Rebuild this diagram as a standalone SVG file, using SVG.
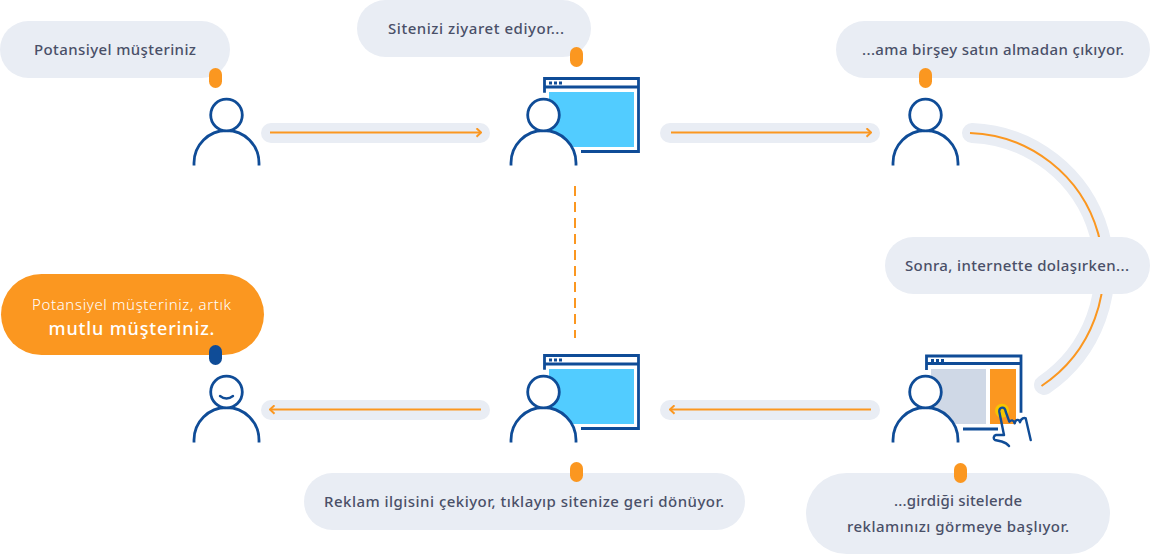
<svg xmlns="http://www.w3.org/2000/svg" width="1150" height="554" viewBox="0 0 1150 554">
<style>
.pill{fill:#e9edf4}
.track{fill:none;stroke:#e9edf4;stroke-width:20;stroke-linecap:round}
.flow{fill:none;stroke:#fb9720;stroke-width:2}
.line{fill:none;stroke:#0f4c97;stroke-width:2.800}
.thin{fill:none;stroke:#0f4c97;stroke-width:2.400;stroke-linecap:round;stroke-linejoin:round}
.head{fill:#fff;stroke:#0f4c97;stroke-width:2.800}
.badge{fill:#fb9720}
.t{font-family:"Noto Sans","Open Sans",sans-serif;font-size:15px;font-weight:500;fill:#4a5068;text-anchor:middle}
.w{font-family:"Noto Sans","Open Sans",sans-serif;fill:#fff;text-anchor:middle}
</style>
<defs>
<marker id="arr" viewBox="0 0 10 10" refX="9" refY="5" markerWidth="10" markerHeight="10" markerUnits="userSpaceOnUse" orient="auto-start-reverse"><path d="M4.500 0.800 L9 5 L4.500 9.200" fill="none" stroke="#fb9720" stroke-width="2"/></marker>
<g id="person"><path class="line" d="M194 165.500V163A32.500 32.500 0 0 1 259 163V165.500" style="fill:#fff"/><circle class="head" cx="226.500" cy="115" r="15.800"/></g>
<g id="browser"><path class="line" d="M544.500 92.700V78.500H638.500V151.500H581M544.500 87H638.500"/><path d="M549 81.500h3v3h-3zM554 81.500h3v3h-3zM559 81.500h3v3h-3z" fill="#0f4c97"/></g>
</defs>
<g id="connectors">
<path class="track" d="M271 133H480"/><path class="flow" d="M270 132.500H481" marker-end="url(#arr)"/>
<path class="track" d="M670 133H870"/><path class="flow" d="M671 132.500H871" marker-end="url(#arr)"/>
<path class="track" d="M972 133A138 138 0 0 1 1044 385"/><path class="flow" d="M970 133A138 138 0 0 1 1041.500 386"/>
<path class="track" d="M870 410H670"/><path class="flow" d="M871 409.500H670" marker-end="url(#arr)"/>
<path class="track" d="M480 410H271"/><path class="flow" d="M481 409.500H270" marker-end="url(#arr)"/>
<path d="M575 186V338" fill="none" stroke="#fb9720" stroke-width="2" stroke-dasharray="10 6"/>
</g>
<g id="node-potansiyel"><rect class="pill" x="0" y="21" width="230" height="57" rx="28.500"/><text class="t" x="115" y="55" textLength="162">Potansiyel müşteriniz</text><rect class="badge" x="209" y="68" width="13" height="20" rx="6.500"/><use href="#person"/></g>
<g id="node-ziyaret"><rect class="pill" x="357" y="0" width="234" height="57" rx="28.500"/><text class="t" x="476" y="34" textLength="176">Sitenizi ziyaret ediyor...</text><rect class="badge" x="570" y="47" width="13" height="20" rx="6.500"/><rect x="549" y="92" width="85" height="55" fill="#52ccff"/><use href="#browser"/><use href="#person" x="317"/></g>
<g id="node-cikiyor"><rect class="pill" x="836" y="21" width="314" height="57" rx="28.500"/><text class="t" x="993" y="55" textLength="262">...ama birşey satın almadan çıkıyor.</text><rect class="badge" x="919" y="68" width="13" height="20" rx="6.500"/><use href="#person" x="699"/></g>
<g id="node-dolasirken"><rect class="pill" x="885" y="237" width="265" height="57" rx="28.500"/><text class="t" x="1017" y="271" textLength="224">Sonra, internette dolaşırken...</text></g>
<g id="node-reklam"><rect x="931" y="369" width="55" height="55" fill="#cfd8e6"/><rect x="990" y="369" width="26" height="55" fill="#fb9720"/><path class="line" d="M926.500 370V356H1021V412.700M926.500 363.500H1021M963 429H998"/><path d="M931 359h3v3h-3zM936 359h3v3h-3zM941 359h3v3h-3z" fill="#0f4c97"/><circle cx="1002" cy="410.700" r="7" fill="#f7c600"/><path class="thin" d="M1004 435L999.300 411.700C998.800 406.500 1005 406 1005.700 411.700L1009.300 421.700C1011 419.800 1013.500 419.500 1014.700 423.300C1015.500 419.500 1019 418.500 1020 422.300C1021 418 1024.500 417.500 1025.700 418.300L1030.700 440M1004 435H996C993.500 435.500 993 439 995 440L1001.700 441.500C1005 442.500 1007.500 444 1009 446"/><use href="#person" x="699" y="277"/><rect class="pill" x="806" y="473" width="304" height="81" rx="40.500"/><text class="t" x="958" y="506" textLength="128">...girdiği sitelerde</text><text class="t" x="958" y="532" textLength="222">reklamınızı görmeye başlıyor.</text><rect class="badge" x="954" y="463" width="13" height="20" rx="6.500"/></g>
<g id="node-tikliyor"><rect class="pill" x="304" y="473" width="441" height="57" rx="28.500"/><text class="t" x="524" y="507" textLength="400">Reklam ilgisini çekiyor, tıklayıp sitenize geri dönüyor.</text><rect class="badge" x="570" y="462" width="13" height="20" rx="6.500"/><rect x="549" y="369" width="85" height="55" fill="#52ccff"/><use href="#browser" y="277"/><use href="#person" x="317" y="277"/></g>
<g id="node-mutlu"><rect x="1" y="274" width="263" height="81" rx="40.500" fill="#fb9720"/><text class="w" x="131.500" y="310" font-size="15" font-weight="300" textLength="199">Potansiyel müşteriniz, artık</text><text class="w" x="131.500" y="335" font-size="18" font-weight="500" textLength="166">mutlu müşteriniz.</text><rect x="209" y="345" width="13" height="20" rx="6.500" fill="#0f4c97"/><use href="#person" y="277"/><path class="thin" d="M220 396Q226.500 401 233 396"/></g>
</svg>
